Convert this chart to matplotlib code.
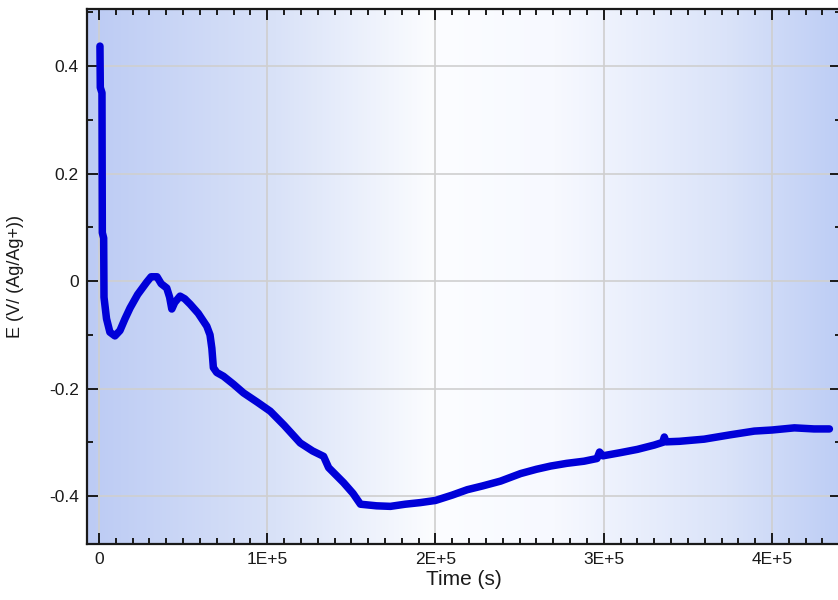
import matplotlib
matplotlib.use("Agg")

import numpy as np
import matplotlib.pyplot as plt
from matplotlib.colors import LinearSegmentedColormap
from matplotlib.ticker import MultipleLocator, FuncFormatter

# open-circuit potential vs time
time_s = [
    600, 800, 1800, 2000, 2800, 3000, 4500, 6500, 9500, 12500, 15500, 18500,
    23000, 28400, 31000, 34500, 37000, 40300, 42000, 43300, 45000, 48200,
    51000, 54200, 59000, 64100, 66000, 67100, 68000, 70000, 74000, 80000,
    85900, 94000, 101800, 110000, 119600, 127000, 133500, 136500, 145400,
    151000, 155400, 165000, 173200, 182000, 191000, 200000, 210000, 218900,
    228000, 238700, 250600, 260000, 268500, 278000, 288300, 296000, 297500,
    299500, 310100, 320000, 330000, 335000, 336000, 337000, 345000, 359700,
    375000, 389500, 400000, 413300, 425000, 434100,
]
potential_v = [
    0.437, 0.36, 0.35, 0.09, 0.08, -0.03, -0.07, -0.095, -0.102, -0.092,
    -0.07, -0.05, -0.025, -0.002, 0.008, 0.008, -0.005, -0.013, -0.03,
    -0.052, -0.04, -0.028, -0.033, -0.043, -0.06, -0.084, -0.1, -0.125,
    -0.161, -0.17, -0.177, -0.192, -0.208, -0.225, -0.242, -0.268, -0.301,
    -0.316, -0.326, -0.347, -0.375, -0.395, -0.415, -0.418, -0.419, -0.415,
    -0.412, -0.408, -0.398, -0.388, -0.381, -0.372, -0.358, -0.350, -0.344,
    -0.339, -0.335, -0.330, -0.318, -0.325, -0.319, -0.313, -0.305, -0.300,
    -0.290, -0.299, -0.298, -0.294, -0.286, -0.279, -0.277, -0.273, -0.275,
    -0.275,
]

plt.rcParams["font.family"] = ["Liberation Sans", "DejaVu Sans"]

fig = plt.figure(figsize=(8.38, 6.0), dpi=100)
ax = fig.add_axes([87 / 838, 56 / 600, 754 / 838, 535 / 600])

# horizontal blue-white-blue background
bg = LinearSegmentedColormap.from_list(
    "bg",
    [(0.0, "#bccbf4"), (0.25, "#d9e2f8"), (0.46, "#fcfdff"),
     (0.62, "#f7f9ff"), (0.85, "#dae3f9"), (1.0, "#bdcdf5")],
)
ax.imshow(np.linspace(0, 1, 256).reshape(1, -1), cmap=bg, aspect="auto",
          extent=(0, 1, 0, 1), transform=ax.transAxes, zorder=0)

ax.plot(time_s, potential_v, color="#0000d8", linewidth=5.4,
        solid_capstyle="round", solid_joinstyle="round", zorder=3)

ax.set_xlim(-7100, 4.41e5)
ax.set_ylim(-0.489, 0.506)

ax.xaxis.set_major_locator(MultipleLocator(1e5))
ax.xaxis.set_minor_locator(MultipleLocator(1e4))
ax.yaxis.set_major_locator(MultipleLocator(0.2))
ax.yaxis.set_minor_locator(MultipleLocator(0.1))
ax.xaxis.set_major_formatter(FuncFormatter(
    lambda v, p: "0" if abs(v) < 1 else f"{v / 1e5:.0f}E+5"))
ax.yaxis.set_major_formatter(FuncFormatter(
    lambda v, p: "0" if abs(v) < 1e-9 else f"{v:.1f}"))

ax.tick_params(which="both", direction="in", top=True, right=True,
               colors="#1a1a1a", labelsize=12.5, width=1.4)
ax.tick_params(which="major", length=8, pad=6)
ax.tick_params(which="minor", length=4)

ax.grid(True, which="major", color="#cfcfcf", linewidth=1.2, zorder=1)
for gl in ax.get_xgridlines() + ax.get_ygridlines():
    gl.set_zorder(1)

for spine in ax.spines.values():
    spine.set_edgecolor("#1a1a1a")
    spine.set_linewidth(1.6)

ax.set_xlabel("Time (s)", fontsize=15, color="#1a1a1a", labelpad=2)
ax.set_ylabel("E (V/ (Ag/Ag+))", fontsize=13, color="#1a1a1a")
ax.yaxis.set_label_coords((24 - 87) / 754, 0.5)

fig.savefig("out.png", dpi=100)
